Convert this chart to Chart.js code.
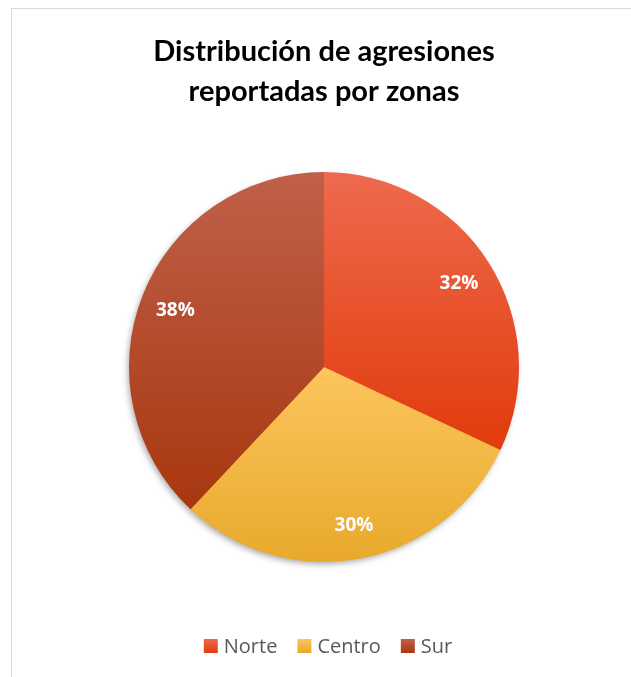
<!DOCTYPE html>
<html>
<head>
<meta charset="utf-8">
<script src="https://cdn.jsdelivr.net/npm/chart.js@4"></script>
<style>
    html, body { margin: 0; padding: 0; background: #fff; }
    body { width: 631px; height: 677px; position: relative; overflow: hidden; }
    .frame {
        position: absolute; left: 11px; top: 8px; width: 630px; height: 680px;
        border-left: 1px solid #d9d9d9; border-top: 1px solid #d9d9d9;
    }
    .wrap { position: absolute; left: 12px; top: 9px; width: 619px; height: 668px; }
</style>
</head>
<body>
<div class="frame"></div>
<div class="wrap"><canvas id="pieChart"></canvas></div>
<script>
const zonas = ['Norte', 'Centro', 'Sur'];
const porcentajes = [32, 30, 38];
const coloresArriba = ['#ee6a4e', '#fdc55e', '#c0604a'];
const coloresAbajo = ['#e13b0b', '#e8a92b', '#a8370f'];

// vertical gradient over each slice's own height
function gradiente(context) {
    const chart = context.chart;
    const area = chart.chartArea;
    const i = context.dataIndex;
    if (!area) return coloresArriba[i];
    const cx = (area.left + area.right) / 2;
    const cy = (area.top + area.bottom) / 2;
    const r = Math.min(area.right - area.left, area.bottom - area.top) / 2;
    const total = porcentajes.reduce((a, b) => a + b, 0);
    let start = -Math.PI / 2;
    for (let k = 0; k < i; k++) start += porcentajes[k] / total * Math.PI * 2;
    const end = start + porcentajes[i] / total * Math.PI * 2;
    let ys = [cy, cy + Math.sin(start) * r, cy + Math.sin(end) * r];
    [-Math.PI / 2, Math.PI / 2, Math.PI * 1.5].forEach(a => {
        if (a >= start && a <= end) ys.push(cy + Math.sin(a) * r);
    });
    const g = chart.ctx.createLinearGradient(0, Math.min(...ys), 0, Math.max(...ys));
    g.addColorStop(0, coloresArriba[i]);
    g.addColorStop(1, coloresAbajo[i]);
    return g;
}

// soft shadow under the pie
const sombra = {
    id: 'sombra',
    beforeDatasetsDraw(chart) {
        const arc = chart.getDatasetMeta(0).data[0];
        if (!arc) return;
        const ctx = chart.ctx;
        ctx.save();
        ctx.shadowColor = 'rgba(0,0,0,0.35)';
        ctx.shadowBlur = 6;
        ctx.shadowOffsetX = -2;
        ctx.shadowOffsetY = 3;
        ctx.fillStyle = '#c05a3a';
        ctx.beginPath();
        ctx.arc(arc.x, arc.y, arc.outerRadius - 1, 0, Math.PI * 2);
        ctx.fill();
        ctx.restore();
    }
};

// percentage labels inside slices
const etiquetas = {
    id: 'etiquetas',
    afterDatasetsDraw(chart) {
        const ctx = chart.ctx;
        const meta = chart.getDatasetMeta(0);
        ctx.save();
        ctx.fillStyle = '#ffffff';
        ctx.font = 'bold 19px "Open Sans", sans-serif';
        ctx.textAlign = 'center';
        ctx.textBaseline = 'middle';
        meta.data.forEach((arc, i) => {
            const mid = (arc.startAngle + arc.endAngle) / 2;
            const r = arc.outerRadius * 0.82;
            ctx.fillText(porcentajes[i] + '%', arc.x + Math.cos(mid) * r, arc.y + Math.sin(mid) * r + 2);
        });
        ctx.restore();
    }
};

// legend drawn below the pie, Excel style
const leyenda = {
    id: 'leyenda',
    afterDraw(chart) {
        const ctx = chart.ctx;
        ctx.save();
        ctx.font = '20px "Open Sans", sans-serif';
        ctx.textBaseline = 'middle';
        const box = 14, gapText = 6, gapItem = 20;
        const widths = zonas.map(z => ctx.measureText(z).width);
        const total = widths.reduce((s, w) => s + box + gapText + w, 0) + gapItem * (zonas.length - 1);
        let x = 316 - total / 2;
        const y = 637;
        zonas.forEach((z, i) => {
            const g = ctx.createLinearGradient(0, y - 7, 0, y + 7);
            g.addColorStop(0, coloresArriba[i]);
            g.addColorStop(1, coloresAbajo[i]);
            ctx.fillStyle = g;
            ctx.fillRect(x, y - 7, box, 14);
            x += box + gapText;
            ctx.fillStyle = '#595959';
            ctx.fillText(z, x, y + 1);
            x += widths[i] + gapItem;
        });
        ctx.restore();
    }
};

const ctx = document.getElementById('pieChart').getContext('2d');
new Chart(ctx, {
    type: 'pie',
    data: {
        labels: zonas,
        datasets: [{
            data: porcentajes,
            backgroundColor: gradiente,
            borderWidth: 0
        }]
    },
    options: {
        responsive: true,
        maintainAspectRatio: false,
        animation: false,
        layout: { padding: { top: 0, bottom: 55, left: 117, right: 112 } },
        plugins: {
            title: {
                display: true,
                text: ['Distribución de agresiones', 'reportadas por zonas'],
                color: '#000000',
                font: { family: 'Lato', size: 29, weight: 'bold', lineHeight: 1.38 },
                padding: { top: 23, bottom: 0 }
            },
            legend: { display: false },
            tooltip: { enabled: false }
        }
    },
    plugins: [sombra, etiquetas, leyenda]
});
</script>
</body>
</html>
